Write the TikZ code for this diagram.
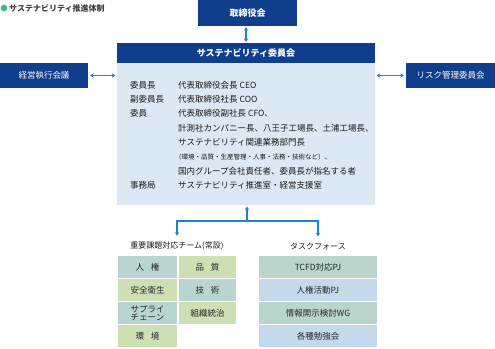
\documentclass[tikz,border=0pt]{standalone}
\usepackage{fontspec}
\setmainfont{Noto Sans CJK JP}
\usepackage{xcolor}
\usetikzlibrary{arrows.meta,positioning,calc}
\definecolor{navy}{HTML}{0F3E8C}
\definecolor{pale}{HTML}{DCE9F5}
\definecolor{link}{HTML}{1A86C9}
\definecolor{dotg}{HTML}{3DB393}
\definecolor{teal}{HTML}{B9D5D1}
\definecolor{leaf}{HTML}{CDE0B3}
\definecolor{sky}{HTML}{C4D9EC}
\definecolor{mint}{HTML}{BAD5CC}
\tikzset{
  hbox/.style={rectangle, fill=navy, text=white, align=center, inner sep=0pt,
    font=\fontsize{9}{10}\selectfont\bfseries},
  cell/.style={rectangle, inner sep=0pt, align=center, minimum height=22pt,
    text=black!85, font=\fontsize{8.5}{9}\selectfont},
  link/.style={{Stealth[length=3.5pt,width=4.5pt]}-{Stealth[length=3.5pt,width=4.5pt]},
    draw=link, line width=1.2pt},
  up/.style={-{Stealth[length=3.5pt,width=4.5pt]}, draw=link, line width=1.2pt},
}

\begin{document}
\begin{tikzpicture}[x=1pt, y=-1pt,
  every node/.style={text=black!90},
  lab/.style={anchor=west, inner sep=0pt, font=\fontsize{8.5}{9}\selectfont},
  sml/.style={anchor=west, inner sep=0pt, font=\fontsize{6.5}{7}\selectfont},
  grp/.style={inner sep=0pt, font=\fontsize{8}{8}\selectfont},
]
\useasboundingbox (0,0) rectangle (495,348);
% title
\fill[dotg] (4,8) circle (3.3pt);
\node[anchor=west, inner sep=0pt, font=\fontsize{8}{9}\selectfont\bfseries, text=black!75]
  (title) at (9,8) {サステナビリティ推進体制};
% boxes
\node[hbox, minimum width=99pt, minimum height=26pt] (board) at (247.5,13) {取締役会};
\node[hbox, minimum width=258pt, minimum height=20pt] (head) at (246,53) {サステナビリティ委員会};
\node[rectangle, fill=pale, minimum width=258pt, minimum height=142pt, inner sep=0pt,
  below=0pt of head] (body) {};
\node[hbox, minimum width=88pt, minimum height=25pt, font=\fontsize{8.5}{9}\selectfont]
  (exec) at (44,75.5) {経営執行会議};
\node[hbox, minimum width=89pt, minimum height=25pt, font=\fontsize{8.5}{9}\selectfont]
  (risk) at (450.5,75.5) {リスク管理委員会};
% members
\node[lab] (l1) at (130,85)  {委員長};
\node[lab] (l2) at (130,99)  {副委員長};
\node[lab] (l3) at (130,113) {委員};
\node[lab] (l4) at (130,185) {事務局};
\node[lab] (v1) at (178,85)  {代表取締役会長 CEO};
\node[lab] (v2) at (178,99)  {代表取締役社長 COO};
\node[lab] (v3) at (178,113) {代表取締役副社長 CFO、};
\node[lab] (v4) at (178,128) {計測社カンパニー長、八王子工場長、土浦工場長、};
\node[lab] (v5) at (178,142) {サステナビリティ関連業務部門長};
\node[sml] (v6) at (175,157) {（環境・品質・生産管理・人事・法務・技術など）、};
\node[lab] (v7) at (178,171) {国内グループ会社責任者、委員長が指名する者};
\node[lab] (v8) at (178,185) {サステナビリティ推進室・経営支援室};
% groups
\node[grp] (team) at (177,246) {重要課題対応チーム(常設)};
\node[grp] (task) at (318,246) {タスクフォース};
\node[cell, fill=teal, minimum width=59pt] (c1) at (147.5,267) {人\hspace{7pt}権};
\node[cell, fill=leaf, minimum width=59pt] (c2) at (147.5,290) {安全衛生};
\node[cell, fill=teal, minimum width=59pt, font=\fontsize{8.5}{8}\selectfont]
  (c3) at (147.5,313) {サプライ\\チェーン};
\node[cell, fill=leaf, minimum width=59pt] (c4) at (147.5,336) {環\hspace{7pt}境};
\node[cell, fill=leaf, minimum width=57pt] (c5) at (207.5,267) {品\hspace{7pt}質};
\node[cell, fill=teal, minimum width=57pt] (c6) at (207.5,290) {技\hspace{7pt}術};
\node[cell, fill=leaf, minimum width=57pt] (c7) at (207.5,313) {組織統治};
\node[cell, fill=mint, minimum width=118pt] (t1) at (318,267) {TCFD対応PJ};
\node[cell, fill=sky,  minimum width=118pt] (t2) at (318,290) {人権活動PJ};
\node[cell, fill=mint, minimum width=118pt] (t3) at (318,313) {情報開示検討WG};
\node[cell, fill=sky,  minimum width=118pt] (t4) at (318,336) {各種勉強会};
% links
\draw[link, shorten >=1pt, shorten <=1pt] (board.south -| head.north) -- (head.north);
\draw[link, shorten >=1.5pt, shorten <=2pt] (exec.east) -- (exec.east -| body.west);
\draw[link, shorten >=1.5pt, shorten <=2pt] (risk.west) -- (risk.west -| body.east);
\coordinate (hub) at (247,221);
\draw[up, shorten >=1pt] (hub) -- (hub |- body.south);
\draw[up, line cap=rect] (hub) -| ($(team.north)+(0,-6)$);
\draw[up, line cap=rect] (hub) -| ($(task.north)+(0,-6)$);
\end{tikzpicture}
\end{document}
